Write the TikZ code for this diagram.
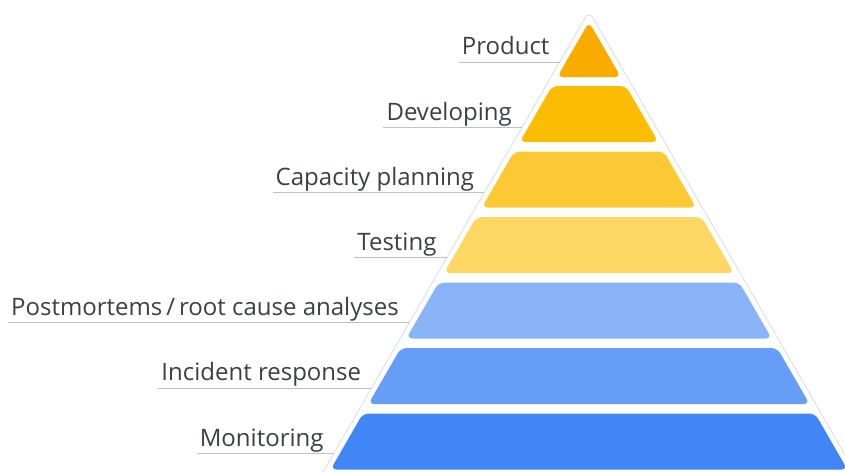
\documentclass[tikz,border=0pt]{standalone}
\usepackage{fontspec}
\setmainfont{Open Sans}
\definecolor{txtgray}{HTML}{3C4043}
\definecolor{linegray}{HTML}{BDC1C6}
\definecolor{edgegray}{HTML}{DADCE0}
\definecolor{productcol}{HTML}{F9AB00}
\definecolor{developcol}{HTML}{FBBC04}
\definecolor{capacitycol}{HTML}{FCC934}
\definecolor{testcol}{HTML}{FDD663}
\definecolor{postmortemcol}{HTML}{8AB4F8}
\definecolor{incidentcol}{HTML}{669DF6}
\definecolor{monitorcol}{HTML}{4285F4}
\tikzset{
  layer/.style={rounded corners=6pt},
  lvlabel/.style={anchor=south east, inner xsep=3pt, inner ysep=0pt, text depth=7pt,
    text=txtgray, font=\fontsize{24}{28}\selectfont},
  underline/.style={color=linegray, line width=0.8pt},
}
\begin{document}
\begin{tikzpicture}[x=1pt,y=-1pt]
\useasboundingbox (0,0) rectangle (845,471);
\clip (0,0) rectangle (845,471);
% outer frame of the pyramid
\draw [color=edgegray, line width=0.8pt, rounded corners=8pt](317.9,481) -- (589,11) -- (860.1,481);
% layers, top to bottom
\fill [layer, fill=productcol](589,22) -- (620.8,77) -- (557.2,77) -- cycle;
\fill [layer, fill=developcol](552.1,86) -- (625.9,86) -- (658.3,142) -- (519.7,142) -- cycle;
\fill [layer, fill=capacitycol](514.2,151.5) -- (663.8,151.5) -- (696.1,207.5) -- (481.9,207.5) -- cycle;
\fill [layer, fill=testcol](476.4,217) -- (701.6,217) -- (733.9,273) -- (444.1,273) -- cycle;
\fill [layer, fill=postmortemcol](438.6,282.5) -- (739.4,282.5) -- (771.7,338.5) -- (406.3,338.5) -- cycle;
\fill [layer, fill=incidentcol](400.8,348) -- (777.2,348) -- (809.6,404) -- (368.4,404) -- cycle;
\fill [layer, fill=monitorcol](362.9,413.5) -- (815.1,413.5) -- (847.4,469.5) -- (330.6,469.5) -- cycle;
% label lines end on the frame
\coordinate (e0) at (559.6,62);
\coordinate (e1) at (521.9,127.2);
\coordinate (e2) at (484.3,192.4);
\coordinate (e3) at (446.6,257.6);
\coordinate (e4) at (409.0,322.8);
\coordinate (e5) at (371.3,388);
\coordinate (e6) at (333.7,453.2);
\node [lvlabel] (product) at (552.6,62) {Product};
\node [lvlabel] (developing) at (514.9,127.2) {Developing};
\node [lvlabel] (capacity) at (477.3,192.4) {Capacity planning};
\node [lvlabel] (testing) at (439.6,257.6) {Testing};
\node [lvlabel] (postmortems) at (402.0,322.8) {Postmortems\,/\,root cause analyses};
\node [lvlabel] (incident) at (364.3,388) {Incident response};
\node [lvlabel] (monitoring) at (326.7,453.2) {Monitoring};
\draw [underline](product.south west) -- (e0);
\draw [underline](developing.south west) -- (e1);
\draw [underline](capacity.south west) -- (e2);
\draw [underline](testing.south west) -- (e3);
\draw [underline](postmortems.south west) -- (e4);
\draw [underline](incident.south west) -- (e5);
\draw [underline](monitoring.south west) -- (e6);
\end{tikzpicture}
\end{document}
